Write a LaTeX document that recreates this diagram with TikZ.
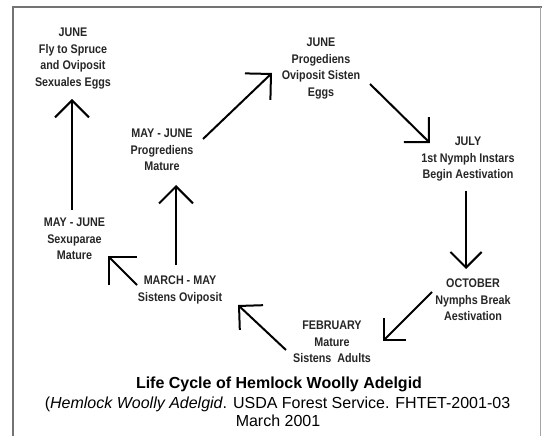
\documentclass[tikz,border=0pt]{standalone}
\usepackage{fontspec}
\setmainfont{Liberation Sans}
\newfontfamily\lblfont[FakeStretch=0.86]{Liberation Sans}
\usetikzlibrary{arrows.meta}
\begin{document}
\begin{tikzpicture}[x=1pt,y=-1pt,
  lbl/.style={font=\lblfont\fontsize{12.5}{16.5}\selectfont\bfseries, align=center, inner sep=0pt, text=black!85},
  arr/.style={line width=2pt, -{Straight Barb[angle=90:#1]}},
  arr/.default=24pt,
  frameline/.style={line width=2pt, draw=black!55},
  frameright/.style={line width=1pt, draw=black!35}]
\useasboundingbox (0,0) rectangle (542,436);
% frame
\coordinate (fbl) at (13,436);
\coordinate (ftl) at (13,7);
\coordinate (ftr) at (542,7);
\coordinate (frt) at (540.5,7);
\coordinate (frb) at (540.5,436);
\draw[frameline] (fbl) -- (ftl) -- (ftr);
\draw[frameright] (frt) -- (frb);
% labels
\node[lbl] (l1) at (73,58.5) {JUNE\\Fly to Spruce\\and Oviposit\\Sexuales Eggs};
\node[lbl] (l2) at (74.5,239) {MAY - JUNE\\Sexuparae\\Mature};
\node[lbl] (l3) at (180,290) {MARCH - MAY\\Sistens Oviposit};
\node[lbl] (l4) at (162,150) {MAY - JUNE\\Progrediens\\Mature};
\node[lbl] (l5) at (321,68.5) {JUNE\\Progediens\\Oviposit Sisten\\Eggs};
\node[lbl] (l6) at (468,159.5) {JULY\\1st Nymph Instars\\Begin Aestivation};
\node[lbl] (l7) at (473,300) {OCTOBER\\Nymphs Break\\Aestivation};
\node[lbl] (l8) at (332,342) {FEBRUARY\\Mature\\Sistens\ \ Adults};
% arrow end points
\coordinate (a1s) at (72,210);  \coordinate (a1e) at (72,99);
\coordinate (a2s) at (137,285); \coordinate (a2e) at (108,256);
\coordinate (a3s) at (176,265); \coordinate (a3e) at (176,185);
\coordinate (a4s) at (203,139); \coordinate (a4e) at (272,73);
\coordinate (a5s) at (370,84);  \coordinate (a5e) at (430,143);
\coordinate (a6s) at (466,191); \coordinate (a6e) at (466,269);
\coordinate (a7s) at (432,292); \coordinate (a7e) at (383,341);
\coordinate (a8s) at (286,350); \coordinate (a8e) at (238,305);
\draw[arr] (a1s) -- (a1e);
\draw[arr=28pt] (a2s) -- (a2e);
\draw[arr] (a3s) -- (a3e);
\draw[arr=26pt] (a4s) -- (a4e);
\draw[arr=25pt] (a5s) -- (a5e);
\draw[arr=22pt] (a6s) -- (a6e);
\draw[arr=22pt] (a7s) -- (a7e);
\draw[arr] (a8s) -- (a8e);
% caption
\node[anchor=base, inner sep=0pt, font=\fontsize{16}{18}\selectfont\bfseries] (title) at (279,388) {Life Cycle of Hemlock Woolly Adelgid};
\node[anchor=base, inner sep=0pt, font=\fontsize{16}{18}\selectfont] (src) at (277.5,408) {(\textit{Hemlock Woolly Adelgid}. USDA Forest Service. FHTET-2001-03};
\node[anchor=base, inner sep=0pt, font=\fontsize{16}{18}\selectfont] (date) at (278,426) {March 2001};
\end{tikzpicture}
\end{document}
